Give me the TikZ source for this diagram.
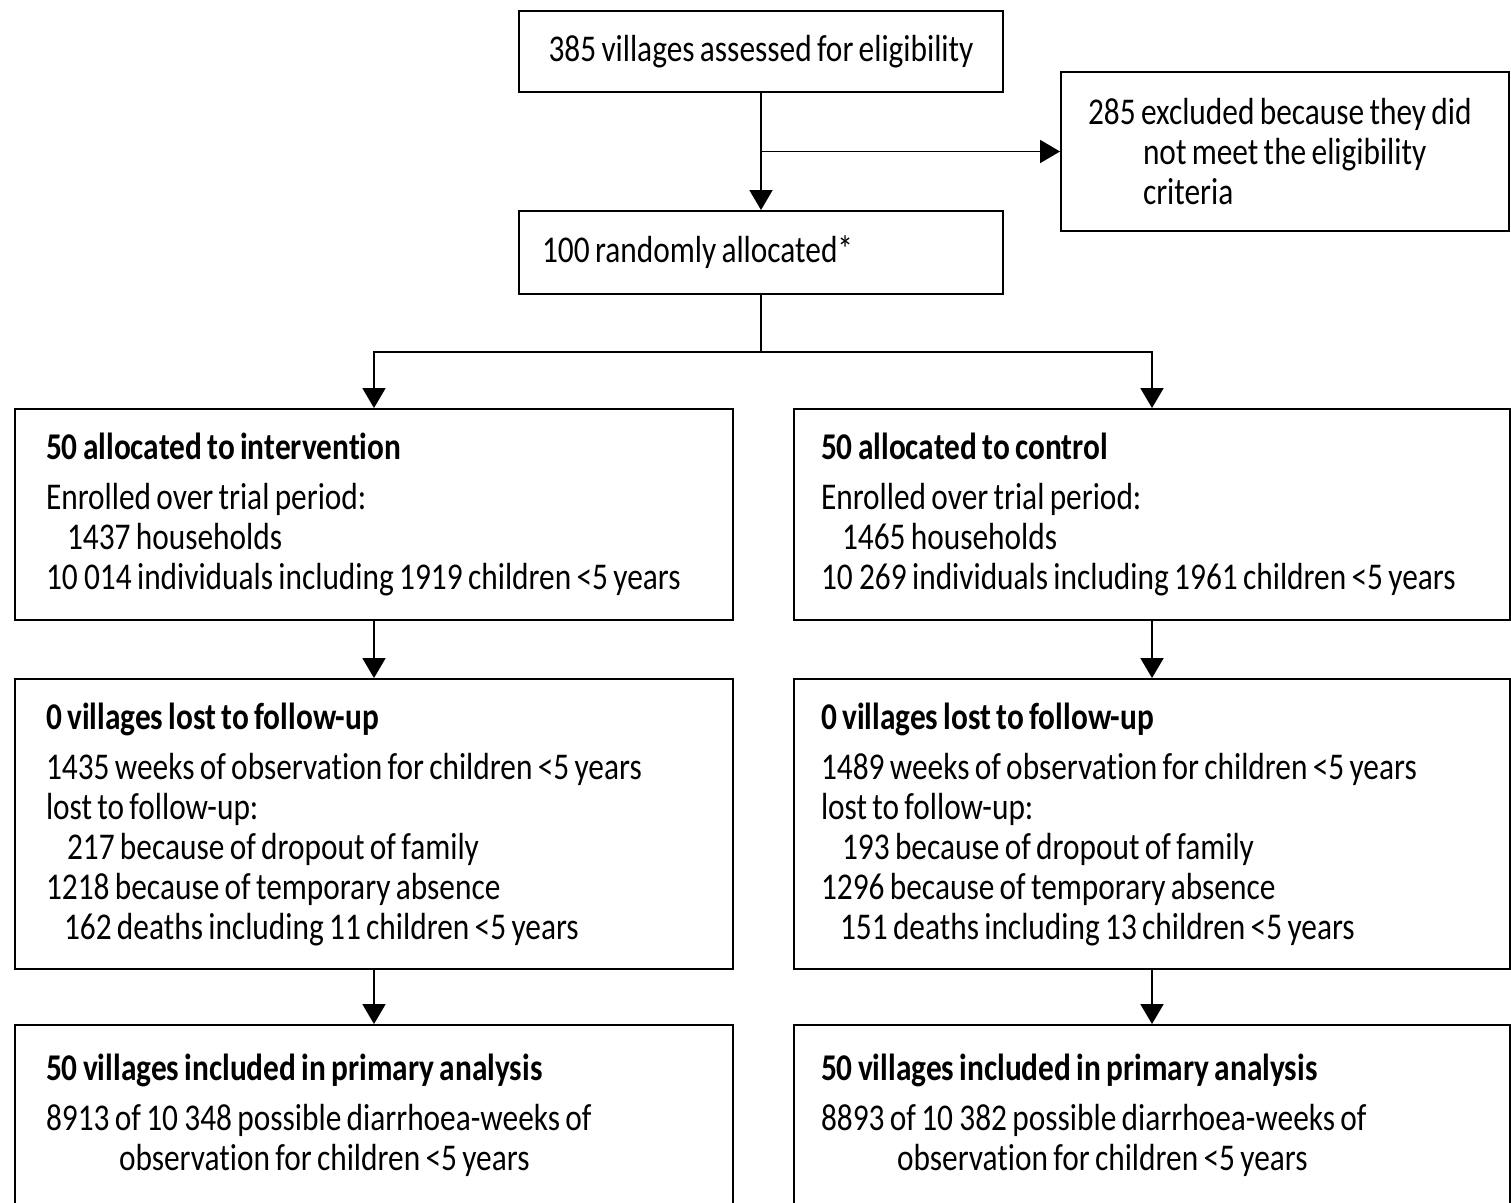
\documentclass[tikz,border=0pt]{standalone}
\usepackage{fontspec}
\setmainfont{Carlito}[FakeStretch=0.83, WordSpace=0.75, Ligatures=NoCommon]
\usetikzlibrary{arrows.meta}

\begin{document}
\begin{tikzpicture}[
	% Define the styles for the boxes and the arrows
	box/.style={draw, line width=1.1pt, rectangle, align=flush left, font=\fontsize{21.5pt}{22.76pt}\selectfont},
	flow/.style={line width=1.1pt, -{Triangle[length=0.4cm, width=0.46cm]}}
	]
	
	\useasboundingbox (0,0) rectangle (30.22,-24.04);
	
	% --- BOXES ---
	% Format: \node (internal_name) at (x,y) [box, sizes] {text};
	
	\node (assessed) at (15.22, -1.03) [box, minimum width=9.68cm, minimum height=1.62cm] {385 villages assessed for eligibility};
	\node (excluded) at (25.70, -3.03) [box, text width=7.88cm, inner xsep=0.54cm, minimum height=3.18cm] {285 excluded because they did\\
		\hspace*{1.1cm}not meet the eligibility\\
		\hspace*{1.1cm}criteria};
	\node (randomised) at (15.22, -5.05) [box, text width=8.76cm, inner xsep=0.46cm, minimum height=1.66cm] {100 randomly allocated*};
	
	\node (interv) at (7.48, -10.29) [box, text width=13.12cm, inner xsep=0.62cm, minimum height=4.22cm] {\textbf{50 allocated to intervention}\\[0.2cm]
		Enrolled over trial period:\\
		\hspace*{0.42cm}1437 households\\
		10\,014 individuals including 1919 children <5 years};
	\node (ctrl) at (23.04, -10.29) [box, text width=13.24cm, inner xsep=0.54cm, minimum height=4.22cm] {\textbf{50 allocated to control}\\[0.2cm]
		Enrolled over trial period:\\
		\hspace*{0.42cm}1465 households\\
		10\,269 individuals including 1961 children <5 years};
	
	\node (intervlost) at (7.48, -16.48) [box, text width=13.12cm, inner xsep=0.62cm, minimum height=5.8cm] {\textbf{0 villages lost to follow-up}\\[0.2cm]
		1435 weeks of observation for children <5 years\\
		lost to follow-up:\\
		\hspace*{0.42cm}217 because of dropout of family\\
		1218 because of temporary absence\\
		\hspace*{0.36cm}162 deaths including 11 children <5 years};
	\node (ctrllost) at (23.04, -16.48) [box, text width=13.24cm, inner xsep=0.54cm, minimum height=5.8cm] {\textbf{0 villages lost to follow-up}\\[0.2cm]
		1489 weeks of observation for children <5 years\\
		lost to follow-up:\\
		\hspace*{0.42cm}193 because of dropout of family\\
		1296 because of temporary absence\\
		\hspace*{0.38cm}151 deaths including 13 children <5 years};
	
	\node (intervanal) at (7.48, -22.30) [box, text width=13.12cm, inner xsep=0.62cm, minimum height=3.6cm] {\textbf{50 villages included in primary analysis}\\[0.2cm]
		8913 of 10\,348 possible diarrhoea-weeks of\\
		\hspace*{1.46cm}observation for children <5 years};
	\node (ctrlanal) at (23.04, -22.30) [box, text width=13.24cm, inner xsep=0.54cm, minimum height=3.6cm] {\textbf{50 villages included in primary analysis}\\[0.2cm]
		8893 of 10\,382 possible diarrhoea-weeks of\\
		\hspace*{1.52cm}observation for children <5 years};
	
	% --- ARROWS ---
	\coordinate (split) at (15.22, -7.04);
	
	\draw[flow] (assessed) -- (randomised);
	\draw[flow] (assessed.south |- excluded.west) -- (excluded.west);
	\draw[line width=1.1pt] (randomised) -- (split);
	\draw[flow] (split) -| (interv);
	\draw[flow] (split) -| (ctrl);
	\draw[flow] (interv) -- (intervlost);
	\draw[flow] (ctrl) -- (ctrllost);
	\draw[flow] (intervlost) -- (intervanal);
	\draw[flow] (ctrllost) -- (ctrlanal);
	
\end{tikzpicture}
\end{document}
